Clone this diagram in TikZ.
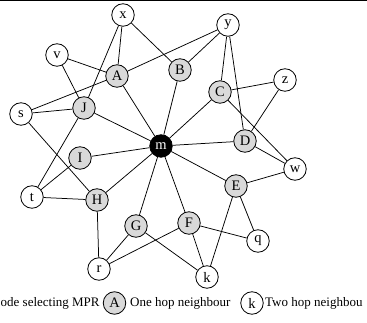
\documentclass[tikz,border=0pt]{standalone}
\usepackage{fontspec}
\setmainfont{Liberation Serif}
\pgfdeclarelayer{linklayer}
\pgfsetlayers{linklayer,main}
\begin{document}
\begin{tikzpicture}[x=1pt,y=-1pt,
  nd/.style={circle,draw=black,line width=0.8pt,minimum size=22.5pt,inner sep=0pt,
    font=\fontsize{14.5}{16}\selectfont},
  hop1/.style={nd,fill=black!15},
  hop2/.style={nd,fill=white},
  src/.style={nd,fill=black,text=white},
  link/.style={line width=0.75pt},
  lbl/.style={inner sep=0pt,font=\fontsize{13}{15}\selectfont}]
\useasboundingbox (0,0) rectangle (367,323);
\clip (0,0) rectangle (367,323);
% rule along the top
\draw[line width=1.5pt] (0,0.75) -- (367,0.75);

% nodes
\node[src]  (m) at (161,146) {m};
\node[hop1] (A) at (117,76)  {A};
\node[hop1] (B) at (180,70)  {B};
\node[hop1] (C) at (220,92)  {C};
\node[hop1] (D) at (245,141) {D};
\node[hop1] (E) at (236,186) {E};
\node[hop1] (F) at (189,223) {F};
\node[hop1] (G) at (136,226) {G};
\node[hop1] (H) at (97,200)  {H};
\node[hop1] (I) at (80,158)  {I};
\node[hop1] (J) at (84,108)  {J};
\node[hop2] (x) at (123,15)  {x};
\node[hop2] (y) at (228,25)  {y};
\node[hop2] (v) at (57,55)   {v};
\node[hop2] (z) at (285,80)  {z};
\node[hop2] (s) at (21,114)  {s};
\node[hop2] (w) at (295,169) {w};
\node[hop2] (t) at (32,197)  {t};
\node[hop2] (q) at (258,241) {q};
\node[hop2] (r) at (99,269)  {r};
\node[hop2] (k) at (207,277) {k};

% links, kept behind the nodes
\begin{pgfonlayer}{linklayer}
\foreach \a/\b in {x/A,x/J,x/B,y/A,y/B,y/C,y/D,v/A,v/J,A/s,A/m,B/m,
  C/z,C/m,C/w,s/J,s/H,J/m,J/t,m/D,m/I,m/E,m/F,m/G,m/H,D/z,D/w,I/t,t/H,
  w/E,E/q,E/k,H/r,G/r,G/k,F/r,F/q,F/k}
  \draw[link] (\a) -- (\b);
\end{pgfonlayer}

% legend
\node[lbl,anchor=west] (l1) at (0.5,303) {ode selecting MPR};
\node[hop1] (la) at (114.5,303) {A};
\node[lbl,anchor=west] (l2) at (130,303) {One hop neighbour};
\node[hop2] (lk) at (252,303) {k};
\node[lbl,anchor=west] (l3) at (265,303) {Two hop neighbou};
\end{tikzpicture}
\end{document}
